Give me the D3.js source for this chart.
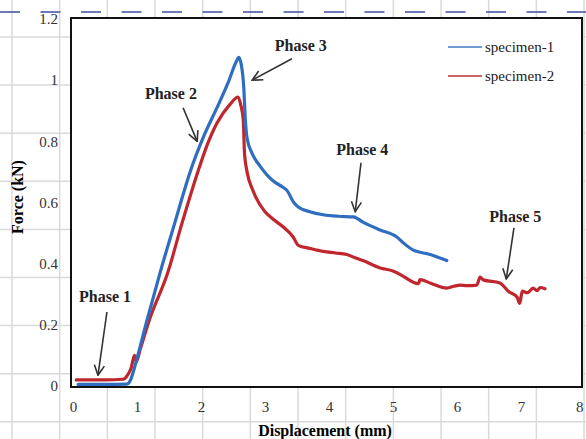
<!DOCTYPE html>
<html>
<head>
<meta charset="utf-8">
<script src="https://cdn.jsdelivr.net/npm/d3@7"></script>
<style>
  body { margin: 0; background: #fff; }
  svg, text { font-family: "Liberation Serif", "Times New Roman", "DejaVu Serif", serif; }
</style>
</head>
<body>
<div id="chart"></div>
<script>
// force-displacement curves (mm, kN)
const specimen1 = [
  [0.08, 0.005], [0.5, 0.005], [0.84, 0.006], [0.9, 0.02], [0.94, 0.045], [1.0, 0.09],
  [1.15, 0.21], [1.36, 0.37], [1.6, 0.54], [1.83, 0.70], [2.05, 0.82], [2.25, 0.91],
  [2.42, 0.99], [2.55, 1.06], [2.59, 1.075], [2.63, 1.05], [2.67, 0.97], [2.69, 0.88],
  [2.72, 0.81], [2.8, 0.76], [2.92, 0.72], [3.13, 0.67], [3.28, 0.65], [3.34, 0.64],
  [3.45, 0.60], [3.52, 0.585], [3.7, 0.57], [3.91, 0.56], [4.15, 0.555], [4.38, 0.553],
  [4.53, 0.536], [4.8, 0.51], [5.06, 0.487], [5.15, 0.47], [5.31, 0.445], [5.58, 0.43],
  [5.84, 0.41]
];

const specimen2 = [
  [0.05, 0.02], [0.5, 0.02], [0.78, 0.022], [0.85, 0.035], [0.91, 0.06], [0.96, 0.10],
  [0.99, 0.08], [1.05, 0.12], [1.2, 0.22], [1.48, 0.37], [1.7, 0.53], [1.95, 0.70],
  [2.1, 0.79], [2.25, 0.86], [2.45, 0.92], [2.58, 0.945], [2.62, 0.92], [2.66, 0.87],
  [2.68, 0.76], [2.72, 0.70], [2.81, 0.64], [3.0, 0.57], [3.1, 0.55], [3.34, 0.51],
  [3.44, 0.487], [3.52, 0.46], [3.7, 0.45], [3.91, 0.44], [4.1, 0.435], [4.28, 0.43],
  [4.4, 0.42], [4.53, 0.41], [4.8, 0.386], [5.0, 0.376], [5.15, 0.36], [5.31, 0.34],
  [5.4, 0.335], [5.42, 0.348], [5.6, 0.335], [5.84, 0.32], [5.95, 0.326], [6.05, 0.33],
  [6.15, 0.328], [6.31, 0.33], [6.36, 0.356], [6.41, 0.347], [6.67, 0.337], [6.8, 0.31],
  [6.94, 0.29], [6.98, 0.27], [7.02, 0.31], [7.1, 0.305], [7.19, 0.32], [7.25, 0.312],
  [7.3, 0.322], [7.375, 0.318]
];

const seriesNames = ['specimen-1', 'specimen-2'];
const xTicks = [0, 1, 2, 3, 4, 5, 6, 7, 8];
const yTicks = [0, 0.2, 0.4, 0.6, 0.8, 1, 1.2];

// phase labels: text anchor + arrow start/end, in data units
const phaseLabels = ['Phase 1', 'Phase 2', 'Phase 3', 'Phase 4', 'Phase 5'];
const phaseText = [[0.5, 0.275], [1.53, 0.94], [3.56, 1.095], [4.52, 0.755], [6.91, 0.536]];
const phaseArrowFrom = [[0.53, 0.242], [1.72, 0.91], [3.42, 1.07], [4.5, 0.73], [6.89, 0.517]];
const phaseArrowTo = [[0.39, 0.035], [1.94, 0.80], [2.80, 1.0], [4.41, 0.57], [6.77, 0.35]];

const colors = { blue: '#2f6dc0', red: '#c0262d', legendBlue: '#6f9dd2', legendRed: '#c86764' };

const W = 586, H = 439;
const svg = d3.select('#chart').append('svg')
  .attr('width', W)
  .attr('height', H);

// spreadsheet-like backdrop behind the pasted figure
const bg = svg.append('g').attr('class', 'backdrop');
bg.selectAll('.vgrid')
  .data(d3.range(12, W, 47.67))
  .enter().append('line')
  .attr('x1', d => d).attr('x2', d => d)
  .attr('y1', 0).attr('y2', H)
  .attr('stroke', '#dadada').attr('stroke-width', 1.5);
bg.selectAll('.hgrid')
  .data(d3.range(37, H, 48.1))
  .enter().append('line')
  .attr('x1', 0).attr('x2', W)
  .attr('y1', d => d).attr('y2', d => d)
  .attr('stroke', '#dadada').attr('stroke-width', 1.5);
bg.append('line')
  .attr('x1', 0).attr('x2', W)
  .attr('y1', 12).attr('y2', 12)
  .attr('stroke', '#3e4fa2').attr('stroke-width', 1.4)
  .attr('stroke-dasharray', '20,20.5');

// scales
const x = d3.scaleLinear().domain([0, 8]).range([73, 585]);
const y = d3.scaleLinear().domain([0, 1.2]).range([386, 19]);

// plot frame
svg.append('rect')
  .attr('x', 71).attr('y', 18)
  .attr('width', 511).attr('height', 369)
  .attr('fill', '#fff')
  .attr('stroke', '#111')
  .attr('stroke-width', 2);

// axes
const yaxis = d3.axisLeft(y)
  .tickValues(yTicks)
  .tickSize(0)
  .tickPadding(13)
  .tickFormat(d3.format('~g'));
const xaxis = d3.axisBottom(x)
  .tickValues(xTicks)
  .tickSize(0)
  .tickPadding(14)
  .tickFormat(d3.format('d'));

const gy = svg.append('g')
  .attr('transform', 'translate(71,0)')
  .call(yaxis);
const gx = svg.append('g')
  .attr('transform', 'translate(0,387)')
  .call(xaxis);
[gx, gy].forEach(g => {
  g.attr('font-family', null);
  g.select('.domain').remove();
  g.selectAll('text')
    .style('font-family', '"Liberation Serif", "Times New Roman", serif')
    .style('font-size', '15px')
    .attr('fill', '#333');
});
// last label sits against the right edge of the figure
gx.selectAll('.tick').filter(d => d === 8).select('text')
  .attr('text-anchor', 'end')
  .attr('dx', -2);

svg.append('text')
  .attr('x', 325).attr('y', 436)
  .attr('text-anchor', 'middle')
  .style('font-size', '16px').style('font-weight', 'bold')
  .text('Displacement (mm)');
svg.append('text')
  .attr('transform', 'translate(23,197) rotate(-90)')
  .attr('text-anchor', 'middle')
  .style('font-size', '16px').style('font-weight', 'bold')
  .text('Force (kN)');

// curves
const line = d3.line()
  .x(d => x(d[0]))
  .y(d => y(d[1]))
  .curve(d3.curveMonotoneX);
const curves = [specimen2, specimen1];
const curveColors = [colors.red, colors.blue];
svg.selectAll('.curve')
  .data(curves)
  .enter().append('path')
  .classed('curve', true)
  .attr('d', line)
  .attr('fill', 'none')
  .attr('stroke', (d, i) => curveColors[i])
  .attr('stroke-width', 3.2)
  .attr('stroke-linejoin', 'round')
  .attr('stroke-linecap', 'round');

// legend
const legend = svg.append('g').attr('class', 'legend');
const legendColors = [colors.legendBlue, colors.legendRed];
seriesNames.forEach((name, i) => {
  const ly = 47 + i * 29;
  legend.append('line')
    .attr('x1', 448).attr('x2', 482)
    .attr('y1', ly).attr('y2', ly)
    .attr('stroke', legendColors[i])
    .attr('stroke-width', 2);
  legend.append('text')
    .attr('x', 485).attr('y', ly + 5)
    .style('font-size', '15px')
    .attr('fill', '#222')
    .text(name);
});

// phase annotations
svg.append('defs').append('marker')
  .attr('id', 'head')
  .attr('viewBox', '0 0 12 12')
  .attr('refX', 11).attr('refY', 6)
  .attr('markerWidth', 12).attr('markerHeight', 12)
  .attr('markerUnits', 'userSpaceOnUse')
  .attr('orient', 'auto')
  .append('path')
  .attr('d', 'M1,1 L11,6 L1,11')
  .attr('fill', 'none')
  .attr('stroke', '#333')
  .attr('stroke-width', 1.6);

phaseLabels.forEach((label, i) => {
  svg.append('text')
    .attr('x', x(phaseText[i][0]))
    .attr('y', y(phaseText[i][1]))
    .attr('text-anchor', 'middle')
    .style('font-size', '16px').style('font-weight', 'bold')
    .attr('fill', '#222')
    .text(label);
  svg.append('line')
    .attr('x1', x(phaseArrowFrom[i][0])).attr('y1', y(phaseArrowFrom[i][1]))
    .attr('x2', x(phaseArrowTo[i][0])).attr('y2', y(phaseArrowTo[i][1]))
    .attr('stroke', '#333')
    .attr('stroke-width', 1.6)
    .attr('marker-end', 'url(#head)');
});
</script>
</body>
</html>
